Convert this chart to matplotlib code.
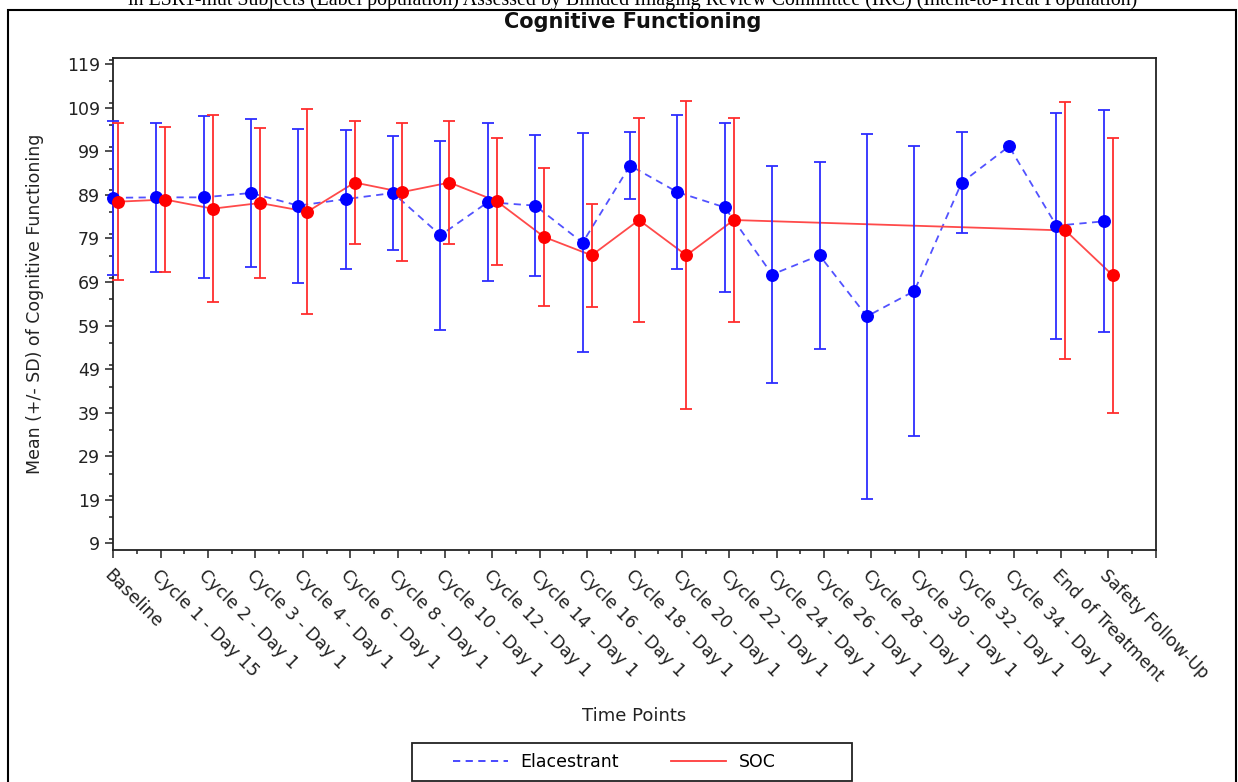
import numpy as np
import matplotlib
matplotlib.use("Agg")
import matplotlib.pyplot as plt
from matplotlib.patches import Rectangle
from matplotlib.lines import Line2D
from matplotlib.ticker import MultipleLocator

plt.rcParams["font.family"] = ["DejaVu Sans"]

timepoints = ["Baseline", "Cycle 1 - Day 15", "Cycle 2 - Day 1", "Cycle 3 - Day 1",
              "Cycle 4 - Day 1", "Cycle 6 - Day 1", "Cycle 8 - Day 1", "Cycle 10 - Day 1",
              "Cycle 12 - Day 1", "Cycle 14 - Day 1", "Cycle 16 - Day 1", "Cycle 18 - Day 1",
              "Cycle 20 - Day 1", "Cycle 22 - Day 1", "Cycle 24 - Day 1", "Cycle 26 - Day 1",
              "Cycle 28 - Day 1", "Cycle 30 - Day 1", "Cycle 32 - Day 1", "Cycle 34 - Day 1",
              "End of Treatment", "Safety Follow-Up"]

nan = np.nan
elac_mean = [88.3, 88.4, 88.4, 89.4, 86.5, 88.0, 89.4, 79.7, 87.3, 86.5, 78.0, 95.7,
             89.6, 86.1, 70.7, 75.1, 61.1, 66.9, 91.8, 100.1, 81.9, 82.9]
elac_sd = [17.65, 17.1, 18.55, 17.0, 17.65, 15.95, 13.05, 21.7, 18.2, 16.25, 25.05, 7.7,
           17.7, 19.3, 24.9, 21.4, 41.8, 33.25, 11.6, nan, 25.9, 25.5]

soc_mean = [87.4, 87.9, 85.8, 87.1, 85.1, 91.8, 89.6, 91.8, 87.5, 79.3, 75.1, 83.2,
            75.1, 83.2, nan, nan, nan, nan, nan, nan, 80.8, 70.5]
soc_sd = [18.0, 16.55, 21.45, 17.3, 23.55, 14.05, 15.85, 14.05, 14.6, 15.9, 11.75, 23.35,
          35.35, 23.35, nan, nan, nan, nan, nan, nan, 29.45, 31.55]

y_ticks = list(range(9, 120, 10))

W, H = 1238, 782
AX_L, AX_R, AX_T, AX_B = 113.3, 1155.7, 58.3, 550
fig = plt.figure(figsize=(W / 100, H / 100), dpi=100)
ax = fig.add_axes([AX_L / W, 1 - AX_B / H, (AX_R - AX_L) / W, (AX_B - AX_T) / H])

x = np.arange(len(timepoints), dtype=float)
shift = 0.095


def draw_group(xpos, mean, sd, line_c, bar_c, dot_c, dashed):
    m = np.asarray(mean, dtype=float)
    s = np.asarray(sd, dtype=float)
    ok = ~np.isnan(m)
    ls = (0, (4, 3)) if dashed else "-"
    ax.plot(xpos[ok], m[ok], color=line_c, lw=1.3, linestyle=ls, zorder=2, clip_on=False)
    ax.errorbar(xpos[ok], m[ok], yerr=s[ok], fmt="none", ecolor=bar_c, elinewidth=1.3,
                capsize=4, capthick=1.3, zorder=3, clip_on=False)
    ax.plot(xpos[ok], m[ok], "o", color=dot_c, ms=8.3, mec=dot_c, zorder=4, clip_on=False)


# Elacestrant nudged left, SOC nudged right; keep the first point on the axis
draw_group(np.clip(x - shift, 0, None), elac_mean, elac_sd,
           "#5252ff", "#2d2dff", "#0000ff", True)
draw_group(x + shift, soc_mean, soc_sd, "#ff4a4a", "#ff2d2d", "#ff0000", False)

ax.set_xlim(0, len(timepoints))
ax.set_ylim(7.5, 120.3)
ax.set_xticks(np.arange(len(timepoints) + 1))
ax.set_xticklabels(timepoints + [""], rotation=-45, ha="left", va="top",
                   rotation_mode="anchor", fontsize=12.5, color="#222222")
ax.xaxis.set_minor_locator(MultipleLocator(0.5))
ax.set_yticks(y_ticks)
ax.yaxis.set_minor_locator(MultipleLocator(5))
ax.tick_params(axis="y", labelsize=12.5, labelcolor="#222222")
ax.tick_params(which="major", length=5.5, width=1.1, color="#222222", pad=4)
ax.tick_params(which="minor", length=3, width=1.1, color="#222222")
ax.tick_params(axis="x", which="major", pad=6)
for sp in ax.spines.values():
    sp.set_linewidth(1.3)
    sp.set_color("#222222")

ax.set_xlabel("Time Points", fontsize=13, color="#222222")
ax.set_ylabel("Mean (+/- SD) of Cognitive Functioning", fontsize=12.5, color="#222222")
ax.yaxis.set_label_coords(-(AX_L - 44) / (AX_R - AX_L), 0.5)
ax.xaxis.set_label_coords(0.5, -(707 - AX_B) / (AX_B - AX_T))

fig.text(633 / W, 1 - 22 / H, "Cognitive Functioning", ha="center", va="center",
         fontsize=15, fontweight="bold", color="#111111")
fig.text(633 / W, 1 - 5 / H, "in ESR1-mut Subjects (Label population) Assessed by Blinded "
         "Imaging Review Committee (IRC) (Intent-to-Treat Population)",
         ha="center", va="baseline", fontsize=14.3, family="Liberation Serif")

# outer frame of the output page
fig.patches.append(Rectangle((8 / W, -0.05), (1236 - 8) / W, 1.05 - 10 / H,
                             transform=fig.transFigure, fill=False, lw=1.5,
                             edgecolor="black"))

# legend with its own box
fig.patches.append(Rectangle((412 / W, 1 - 781 / H), (852 - 412) / W, (781 - 743) / H,
                             transform=fig.transFigure, fill=False, lw=1.3,
                             edgecolor="#222222"))
handles = [Line2D([], [], color="#3a3aff", lw=1.3, linestyle=(0, (4, 3))),
           Line2D([], [], color="#ff3a3a", lw=1.3)]
fig.legend(handles, ["Elacestrant", "SOC"], loc="center",
           bbox_to_anchor=(614 / W, 1 - 762 / H), ncol=2, frameon=False,
           fontsize=12.5, handlelength=3.2, handletextpad=0.7, columnspacing=3.0)

fig.savefig("out.png", dpi=100)
